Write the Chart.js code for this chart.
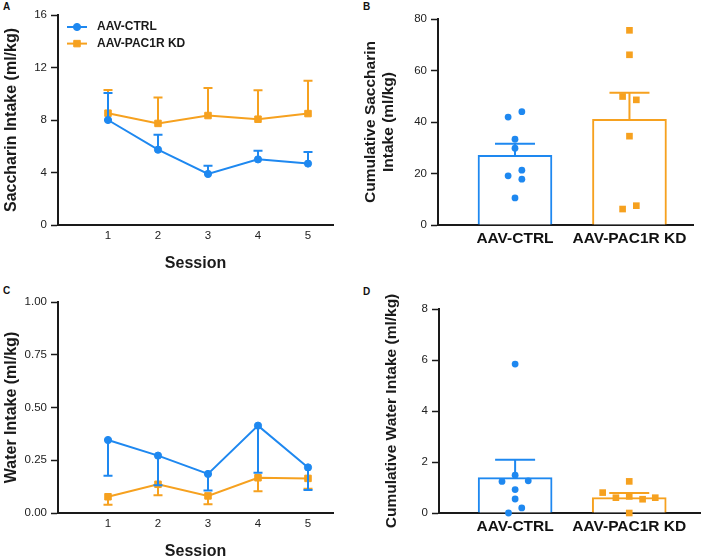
<!DOCTYPE html>
<html><head><meta charset="utf-8">
<script src="https://cdn.jsdelivr.net/npm/chart.js@4.4.1/dist/chart.umd.min.js"></script>
<style>
html,body{margin:0;padding:0;background:#fff;overflow:hidden;width:708px;height:557px;position:relative;font-family:'Liberation Sans',Arial,sans-serif}
canvas{position:absolute}
.lbl{position:absolute;font-weight:bold;font-size:10px;line-height:10px;color:#111}
</style></head><body>
<div class="lbl" style="left:3px;top:2px">A</div>
<div class="lbl" style="left:363px;top:2px">B</div>
<div class="lbl" style="left:3px;top:286px">C</div>
<div class="lbl" style="left:363px;top:287px">D</div>
<canvas id="cA" width="354" height="280" style="left:0;top:0"></canvas>
<canvas id="cB" width="354" height="280" style="left:354px;top:0"></canvas>
<canvas id="cC" width="354" height="285" style="left:0;top:280px"></canvas>
<canvas id="cD" width="354" height="285" style="left:354px;top:280px"></canvas>
<script>
// ---- data ----
const sessions = [1, 2, 3, 4, 5];
const groups = ['AAV-CTRL', 'AAV-PAC1R KD'];

const sacCtrlMean = [8.00, 5.74, 3.89, 5.00, 4.68];
const sacCtrlSem  = [2.06, 1.14, 0.63, 0.66, 0.88];
const sacKdMean   = [8.52, 7.74, 8.34, 8.06, 8.49];
const sacKdSem    = [1.77, 1.97, 2.10, 2.20, 2.51];

const watCtrlMean = [0.346, 0.272, 0.185, 0.414, 0.216];
const watCtrlSem  = [0.169, 0.141, 0.078, 0.223, 0.107];
const watKdMean   = [0.077, 0.136, 0.081, 0.167, 0.164];
const watKdSem    = [0.038, 0.052, 0.040, 0.064, 0.049];

const cumSacMean = [27.1, 41.0];
const cumSacSem  = [4.5, 10.4];
const cumSacCtrl    = [41.9, 44.0, 33.3, 29.8, 21.3, 19.1, 17.8, 10.5];
const cumSacCtrlJit = [-0.06, 0.06, 0, 0, 0.06, -0.06, 0.06, 0];
const cumSacKd      = [75.6, 66.1, 49.9, 48.6, 34.5, 6.2, 7.5];
const cumSacKdJit   = [0, 0, -0.06, 0.06, 0, -0.06, 0.06];

const cumWatMean = [1.39, 0.60];
const cumWatSem  = [0.70, 0.185];
const cumWatCtrl    = [5.84, 1.48, 1.24, 1.26, 0.92, 0.55, 0.20, 0.0];
const cumWatCtrlJit = [0, 0, -0.115, 0.115, 0, 0, 0.058, -0.058];
const cumWatKd      = [1.24, 0.80, 0.60, 0.65, 0.54, 0.60, 0.0];
const cumWatKdJit   = [0, -0.233, -0.117, 0, 0.117, 0.228, 0];

// ---- styling ----
const BLUE = '#1E88F0';
const ORANGE = '#F6A11F';
const INK = '#1a1a1a';
const FAM = "'Liberation Sans', Arial, Helvetica, sans-serif";
Chart.defaults.font.family = FAM;
Chart.defaults.color = INK;

function drawErr(chart, meta, ds) {
  const ctx = chart.ctx;
  const xs = chart.scales[meta.xAxisID], ys = chart.scales[meta.yAxisID];
  ctx.save();
  ctx.lineWidth = 2;
  ds.data.forEach((p, i) => {
    const px = xs.getPixelForValue(p.x);
    const py = ys.getPixelForValue(p.y);
    const ey = ys.getPixelForValue(p.y + ds.errDir * ds.err[i]);
    ctx.strokeStyle = Array.isArray(ds.borderColor) ? ds.borderColor[i] : ds.borderColor;
    ctx.beginPath();
    ctx.moveTo(px, py); ctx.lineTo(px, ey);
    ctx.moveTo(px - ds.capHalf, ey); ctx.lineTo(px + ds.capHalf, ey);
    ctx.stroke();
  });
  ctx.restore();
}
const errPlugin = {
  id: 'errbars',
  beforeDatasetDraw(chart, args) {
    const ds = chart.data.datasets[args.index];
    if (ds.err && ds.type !== 'bar') drawErr(chart, args.meta, ds);
  },
  afterDatasetDraw(chart, args) {
    const ds = chart.data.datasets[args.index];
    if (ds.err && ds.type === 'bar') drawErr(chart, args.meta, ds);
  }
};
const legendPlugin = {
  id: 'miniLegend',
  afterDraw(chart, args, o) {
    if (!o || !o.show) return;
    const ctx = chart.ctx;
    chart.data.datasets.forEach((ds, i) => {
      const y = o.y + i * o.gap;
      ctx.save();
      ctx.strokeStyle = ds.borderColor; ctx.fillStyle = ds.borderColor; ctx.lineWidth = 2;
      ctx.beginPath(); ctx.moveTo(o.x, y); ctx.lineTo(o.x + o.len, y); ctx.stroke();
      ctx.lineWidth = 1;
      Chart.helpers.drawPoint(ctx, {pointStyle: ds.pointStyle, radius: ds.pointRadius, borderWidth: 1, rotation: 0}, o.x + o.len / 2, y);
      ctx.fillStyle = INK; ctx.font = 'bold 12px ' + FAM; ctx.textBaseline = 'middle';
      ctx.fillText(ds.label, o.x + o.len + o.textGap, y);
      ctx.restore();
    });
  }
};

function yAxis(min, max, step, width, title, titleFont, titlePad, fmt) {
  return {
    type: 'linear', min: min, max: max,
    afterFit(s) { s.width = width; },
    ticks: {stepSize: step, font: {size: 11.5}, color: '#222', padding: 4,
      callback: fmt || (v => v)},
    grid: {display: true, drawOnChartArea: false, drawTicks: true, tickLength: 7, tickColor: INK, tickWidth: 1.5},
    border: {display: true, color: INK, width: 2},
    title: {display: true, text: title, font: titleFont, color: INK, padding: titlePad}
  };
}

function lineChart(id, ctrlMean, ctrlSem, kdMean, kdSem, dir, yopt, pad, xH, xTitlePad, legend) {
  return new Chart(document.getElementById(id), {
    type: 'line',
    data: {datasets: [
      {label: groups[0], data: sessions.map((s, i) => ({x: s, y: ctrlMean[i]})),
        err: ctrlSem, errDir: dir, capHalf: 4.5,
        borderColor: BLUE, backgroundColor: BLUE, borderWidth: 2,
        pointStyle: 'circle', pointRadius: 3.6, pointBorderWidth: 1, clip: false},
      {label: groups[1], data: sessions.map((s, i) => ({x: s, y: kdMean[i]})),
        err: kdSem, errDir: dir, capHalf: 4.5,
        borderColor: ORANGE, backgroundColor: ORANGE, borderWidth: 2,
        pointStyle: 'rect', pointRadius: 4.6, pointBorderWidth: 1, clip: false}
    ]},
    options: {
      responsive: false, animation: false, devicePixelRatio: 1,
      layout: {padding: pad},
      plugins: {legend: {display: false}, tooltip: {enabled: false}, miniLegend: legend},
      scales: {
        x: {type: 'linear', min: 0, max: 5.5,
          afterBuildTicks(s) { s.ticks = sessions.map(v => ({value: v})); },
          afterFit(s) { s.height = xH; },
          ticks: {font: {size: 11.5}, color: '#222', padding: 4},
          grid: {display: false, drawTicks: false},
          border: {display: true, color: INK, width: 2},
          title: {display: true, text: 'Session', font: {size: 16, weight: 'bold'}, color: INK, padding: {top: 0, bottom: xTitlePad}}
        },
        y: yopt
      }
    },
    plugins: [errPlugin, legendPlugin]
  });
}

function barChart(id, mean, sem, ctrlPts, ctrlJit, kdPts, kdJit, xmin, xmax, yopt, pad, xH) {
  return new Chart(document.getElementById(id), {
    type: 'bar',
    data: {datasets: [
      {type: 'scatter', order: 1, data: ctrlPts.map((v, i) => ({x: 1 + ctrlJit[i], y: v})),
        pointStyle: 'circle', pointRadius: 3.4, pointBorderWidth: 0,
        backgroundColor: BLUE, borderColor: BLUE, clip: false},
      {type: 'scatter', order: 1, data: kdPts.map((v, i) => ({x: 2 + kdJit[i], y: v})),
        pointStyle: 'rect', pointRadius: 4.7, pointBorderWidth: 0,
        backgroundColor: ORANGE, borderColor: ORANGE, clip: false},
      {type: 'bar', order: 2, data: mean.map((v, i) => ({x: i + 1, y: v})),
        err: sem, errDir: 1, capHalf: 20,
        backgroundColor: '#ffffff', borderColor: [BLUE, ORANGE], borderWidth: 2,
        barThickness: 74, borderSkipped: 'start'}
    ]},
    options: {
      responsive: false, animation: false, devicePixelRatio: 1,
      layout: {padding: pad},
      plugins: {legend: {display: false}, tooltip: {enabled: false}},
      scales: {
        x: {type: 'linear', min: xmin, max: xmax, offset: false,
          afterBuildTicks(s) { s.ticks = groups.map((g, i) => ({value: i + 1})); },
          afterFit(s) { s.height = xH; },
          ticks: {font: {size: 15.5, weight: 'bold'}, color: '#111', padding: 4,
            callback: (v) => groups[Math.round(v) - 1]},
          grid: {display: false, drawTicks: false, offset: false},
          border: {display: true, color: INK, width: 2}
        },
        y: yopt
      }
    },
    plugins: [errPlugin]
  });
}

const titleFontAC = {size: 16, weight: 'bold', lineHeight: 1.2};
const titleFontBD = {size: 15.5, weight: 'bold', lineHeight: 1.15};

lineChart('cA', sacCtrlMean, sacCtrlSem, sacKdMean, sacKdSem, 1,
  yAxis(0, 16, 4, 58, 'Saccharin Intake (ml/kg)', titleFontAC, {top: 1.5, bottom: 0}),
  {left: 0, top: 15, right: 21, bottom: 0}, 55, 6.4,
  {show: true, x: 67, y: 27, gap: 16.6, len: 20, textGap: 10});

barChart('cB', cumSacMean, cumSacSem, cumSacCtrl, cumSacCtrlJit, cumSacKd, cumSacKdJit, 0.3275, 2.555,
  yAxis(0, 80, 20, 84, ['Cumulative Saccharin', 'Intake (ml/kg)'], titleFontBD, {top: 7.5, bottom: 0}),
  {left: 0, top: 19, right: 15, bottom: 0}, 55);

lineChart('cC', watCtrlMean, watCtrlSem, watKdMean, watKdSem, -1,
  yAxis(0, 1, 0.25, 58, 'Water Intake (ml/kg)', titleFontAC, {top: 1.5, bottom: 0}, v => v.toFixed(2)),
  {left: 0, top: 22, right: 21, bottom: 0}, 52, 3.4, {show: false});

barChart('cD', cumWatMean, cumWatSem, cumWatCtrl, cumWatCtrlJit, cumWatKd, cumWatKdJit, 0.333, 2.62,
  yAxis(0, 8, 2, 85, 'Cumulative Water Intake (ml/kg)', titleFontBD, {top: 28.4, bottom: 0}),
  {left: 0, top: 29, right: 8, bottom: 0}, 52);
</script>
</body></html>
